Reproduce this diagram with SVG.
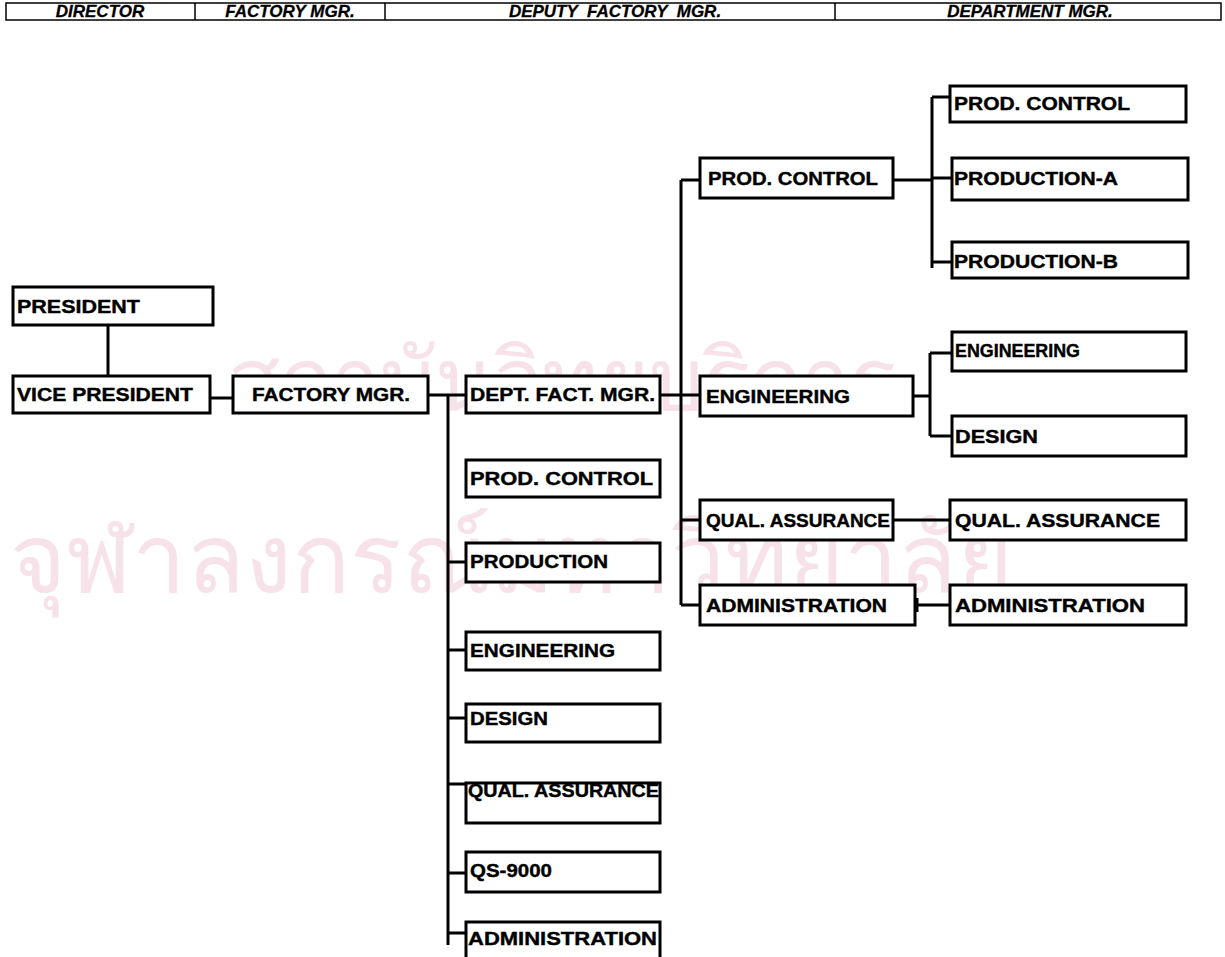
<svg xmlns="http://www.w3.org/2000/svg" width="1225" height="957" viewBox="0 0 1225 957">
<style>
.box{fill:#fff;stroke:#000;stroke-width:3}
.lbl{font-family:"Liberation Sans",Arial,sans-serif;font-weight:bold;font-size:19px;fill:#000;stroke:#000;stroke-width:0.4}
.hdr{font-family:"Liberation Sans",Arial,sans-serif;font-weight:bold;font-style:italic;font-size:17px;fill:#000;stroke:#000;stroke-width:0.3;text-anchor:middle}
.conn{stroke:#000;stroke-width:3;fill:none}
.wm{font-family:"Noto Sans","DejaVu Sans",sans-serif;fill:#f6e2e8}
</style>
<rect width="1225" height="957" fill="#fff"/>
<g id="watermark">
<text class="wm" x="228" y="410" font-size="86">สถาบันวิทยบริการ</text>
<text class="wm" x="10" y="592" font-size="96">จุฬาลงกรณ์มหาวิทยาลัย</text>
</g>
<g id="header">
<rect x="6" y="3" width="1215" height="17" fill="#fff" stroke="#000" stroke-width="1.5"/>
<path d="M195 3V20M385 3V20M835 3V20" stroke="#000" stroke-width="1.5"/>
<text class="hdr" x="100" y="17">DIRECTOR</text>
<text class="hdr" x="290" y="17">FACTORY MGR.</text>
<text class="hdr" x="615" y="17" xml:space="preserve">DEPUTY  FACTORY  MGR.</text>
<text class="hdr" x="1030" y="17">DEPARTMENT MGR.</text>
</g>
<g id="connectors" class="conn">
<path d="M108 325V376"/>
<path d="M210 398H233"/>
<path d="M428 395H466"/>
<path d="M448 395V945"/>
<path d="M448 562H466M448 650H466M448 718H466M448 784H466M448 873H466M448 933H466"/>
<path d="M660 395H700"/>
<path d="M681 180V605"/>
<path d="M681 180H700M681 520H700M681 605H700"/>
<path d="M893 180H932"/>
<path d="M932 97V268"/>
<path d="M932 97H950M932 178H952M932 262H952"/>
<path d="M913 396H930"/>
<path d="M930 353V436"/>
<path d="M930 353H952M930 436H952"/>
<path d="M893 520H950"/>
<path d="M917 598V612M917 605H950"/>
</g>
<g id="president"><rect class="box" x="13" y="287" width="200" height="38"/><text class="lbl" x="17" y="313" textLength="123" lengthAdjust="spacingAndGlyphs">PRESIDENT</text></g>
<g id="vice-president"><rect class="box" x="13" y="376" width="197" height="37"/><text class="lbl" x="17" y="401" textLength="176" lengthAdjust="spacingAndGlyphs">VICE PRESIDENT</text></g>
<g id="factory-mgr"><rect class="box" x="233" y="376" width="195" height="37"/><text class="lbl" x="252" y="401" textLength="158" lengthAdjust="spacingAndGlyphs">FACTORY MGR.</text></g>
<g id="dept-fact-mgr"><rect class="box" x="466" y="376" width="194" height="37"/><text class="lbl" x="470" y="401" textLength="185" lengthAdjust="spacingAndGlyphs">DEPT. FACT. MGR.</text></g>
<g id="l-prod-control"><rect class="box" x="466" y="460" width="194" height="37"/><text class="lbl" x="470" y="485" textLength="183" lengthAdjust="spacingAndGlyphs">PROD. CONTROL</text></g>
<g id="l-production"><rect class="box" x="466" y="543" width="194" height="39"/><text class="lbl" x="470" y="568" textLength="138" lengthAdjust="spacingAndGlyphs">PRODUCTION</text></g>
<g id="l-engineering"><rect class="box" x="466" y="632" width="194" height="38"/><text class="lbl" x="470" y="657" textLength="145" lengthAdjust="spacingAndGlyphs">ENGINEERING</text></g>
<g id="l-design"><rect class="box" x="466" y="704" width="194" height="38"/><text class="lbl" x="470" y="725" textLength="78" lengthAdjust="spacingAndGlyphs">DESIGN</text></g>
<g id="l-qual-assurance"><rect class="box" x="466" y="783" width="194" height="40"/><text class="lbl" x="468" y="797" textLength="191" lengthAdjust="spacingAndGlyphs">QUAL. ASSURANCE</text></g>
<g id="l-qs9000"><rect class="box" x="466" y="852" width="194" height="40"/><text class="lbl" x="470" y="877" textLength="82" lengthAdjust="spacingAndGlyphs">QS-9000</text></g>
<g id="l-administration"><rect class="box" x="466" y="922" width="194" height="50"/><text class="lbl" x="468" y="945" textLength="189" lengthAdjust="spacingAndGlyphs">ADMINISTRATION</text></g>
<g id="d-prod-control"><rect class="box" x="700" y="158" width="193" height="40"/><text class="lbl" x="708" y="185" textLength="170" lengthAdjust="spacingAndGlyphs">PROD. CONTROL</text></g>
<g id="d-engineering"><rect class="box" x="700" y="376" width="213" height="40"/><text class="lbl" x="706" y="403" textLength="144" lengthAdjust="spacingAndGlyphs">ENGINEERING</text></g>
<g id="d-qual-assurance"><rect class="box" x="700" y="500" width="193" height="40"/><text class="lbl" x="706" y="527" textLength="184" lengthAdjust="spacingAndGlyphs">QUAL. ASSURANCE</text></g>
<g id="d-administration"><rect class="box" x="700" y="585" width="215" height="40"/><text class="lbl" x="706" y="612" textLength="181" lengthAdjust="spacingAndGlyphs">ADMINISTRATION</text></g>
<g id="r-prod-control"><rect class="box" x="950" y="86" width="236" height="36"/><text class="lbl" x="954" y="110" textLength="176" lengthAdjust="spacingAndGlyphs">PROD. CONTROL</text></g>
<g id="r-production-a"><rect class="box" x="952" y="158" width="236" height="42"/><text class="lbl" x="954" y="185" textLength="164" lengthAdjust="spacingAndGlyphs">PRODUCTION-A</text></g>
<g id="r-production-b"><rect class="box" x="952" y="242" width="236" height="36"/><text class="lbl" x="954" y="268" textLength="164" lengthAdjust="spacingAndGlyphs">PRODUCTION-B</text></g>
<g id="r-engineering"><rect class="box" x="952" y="332" width="234" height="39"/><text class="lbl" x="955" y="357" textLength="125" lengthAdjust="spacingAndGlyphs">ENGINEERING</text></g>
<g id="r-design"><rect class="box" x="952" y="416" width="234" height="40"/><text class="lbl" x="955" y="443" textLength="83" lengthAdjust="spacingAndGlyphs">DESIGN</text></g>
<g id="r-qual-assurance"><rect class="box" x="950" y="500" width="236" height="40"/><text class="lbl" x="955" y="527" textLength="205" lengthAdjust="spacingAndGlyphs">QUAL. ASSURANCE</text></g>
<g id="r-administration"><rect class="box" x="950" y="585" width="236" height="40"/><text class="lbl" x="955" y="612" textLength="190" lengthAdjust="spacingAndGlyphs">ADMINISTRATION</text></g>
</svg>
